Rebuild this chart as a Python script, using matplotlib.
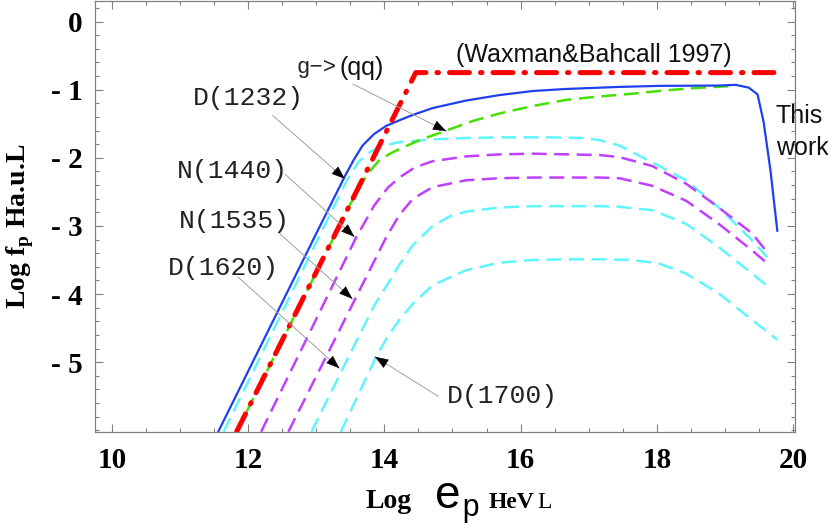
import matplotlib
matplotlib.use("Agg")
import matplotlib.pyplot as plt
from matplotlib.ticker import MultipleLocator, FixedLocator, FixedFormatter

# curves: x = log E_p (eV), y = log f_p (a.u.)
this_work_x = [11.56, 13.02, 13.42, 13.55, 13.68, 13.85, 14.03, 14.22, 14.42, 14.71, 15.2,
               15.69, 16.18, 16.67, 17.45, 18.03, 18.91, 19.16, 19.35, 19.48, 19.57, 19.67, 19.77]
this_work_y = [-6.02, -3.07, -2.27, -2.03, -1.82, -1.65, -1.53, -1.45, -1.37, -1.27, -1.16,
               -1.08, -1.02, -0.99, -0.96, -0.945, -0.94, -0.93, -0.97, -1.07, -1.48, -2.19, -3.07]

wb_x = [11.83, 14.46, 19.72]
wb_y = [-6.02, -0.75, -0.75]

gqq_x = [11.83, 13.50, 13.66, 13.80, 13.93, 14.10, 14.27, 14.52, 14.91, 15.30, 15.69,
         16.18, 16.67, 17.16, 17.64, 18.03, 18.5, 19.05]
gqq_y = [-6.02, -2.68, -2.38, -2.18, -2.03, -1.93, -1.85, -1.74, -1.60, -1.46, -1.35,
         -1.24, -1.15, -1.10, -1.06, -1.02, -0.98, -0.95]

d1232_x = [11.64, 13.07, 13.45, 13.62, 13.78, 13.95, 14.22, 14.71, 15.2, 15.69, 16.42,
           16.9, 17.16, 17.45, 17.94, 18.43, 18.91, 19.40, 19.62]
d1232_y = [-6.02, -3.10, -2.33, -2.06, -1.92, -1.83, -1.77, -1.73, -1.71, -1.70, -1.70,
           -1.71, -1.74, -1.82, -2.07, -2.33, -2.73, -3.21, -3.46]

n1440_x = [12.19, 13.59, 13.85, 14.05, 14.22, 14.45, 14.71, 15.2, 15.69, 16.18, 17.16,
           17.45, 17.93, 18.43, 18.91, 19.40, 19.60]
n1440_y = [-6.02, -3.16, -2.70, -2.44, -2.29, -2.14, -2.05, -1.98, -1.95, -1.94, -1.96,
           -1.99, -2.12, -2.38, -2.73, -3.11, -3.36]

n1535_x = [12.59, 14.03, 14.22, 14.42, 14.71, 15.2, 15.69, 16.18, 17.16, 17.45, 17.93,
           18.43, 18.91, 19.40, 19.60]
n1535_y = [-6.02, -3.16, -2.84, -2.60, -2.43, -2.33, -2.30, -2.29, -2.29, -2.30, -2.41,
           -2.63, -2.97, -3.36, -3.53]

d1620_x = [12.93, 13.45, 13.85, 14.05, 14.22, 14.42, 14.71, 14.96, 15.2, 15.69, 16.18,
           17.16, 17.45, 17.94, 18.43, 18.91, 19.40, 19.67]
d1620_y = [-6.02, -4.97, -4.17, -3.85, -3.57, -3.28, -3.00, -2.86, -2.79, -2.73, -2.71,
           -2.71, -2.72, -2.77, -2.97, -3.31, -3.70, -3.92]

d1700_x = [13.36, 13.88, 14.05, 14.22, 14.42, 14.71, 15.2, 15.69, 16.18, 16.67, 17.16,
           17.64, 18.03, 18.43, 18.91, 19.40, 19.77]
d1700_y = [-6.02, -4.92, -4.62, -4.38, -4.14, -3.87, -3.65, -3.54, -3.50, -3.49, -3.49,
           -3.50, -3.55, -3.70, -3.99, -4.38, -4.67]

x_ticks = [10, 12, 14, 16, 18, 20]
y_ticks = [0, -1, -2, -3, -4, -5]
y_tick_labels = ["0", "- 1", "- 2", "- 3", "- 4", "- 5"]

SERIF = ["Liberation Serif", "DejaVu Serif"]
MONO = ["Liberation Mono", "DejaVu Sans Mono"]
SANS = ["Liberation Sans", "DejaVu Sans"]

fig = plt.figure(figsize=(8.29, 5.30), dpi=100)
ax = fig.add_axes([0.1146, 0.1855, 0.8444, 0.8125])

cyan = "#5ff5ff"
magenta = "#c040ff"
dash = (6, 3)

ax.plot(d1232_x, d1232_y, color=cyan, lw=1.8, dashes=dash)
ax.plot(n1440_x, n1440_y, color=magenta, lw=1.8, dashes=dash)
ax.plot(n1535_x, n1535_y, color=magenta, lw=1.8, dashes=dash)
ax.plot(d1620_x, d1620_y, color=cyan, lw=1.8, dashes=dash)
ax.plot(d1700_x, d1700_y, color=cyan, lw=1.8, dashes=dash)
ax.plot(gqq_x, gqq_y, color="#44e000", lw=1.8, dashes=dash)
ax.plot(this_work_x, this_work_y, color="#2040f0", lw=1.6)
ax.plot(wb_x, wb_y, color="#ff0000", lw=3.6, dashes=(4, 2.2, 0.3, 2.2),
        dash_capstyle="round", solid_capstyle="round")

ax.set_xlim(9.75, 20.03)
ax.set_ylim(-6.02, 0.3)

# Mathematica-style frame: inward ticks on all four sides
ax.xaxis.set_major_locator(FixedLocator(x_ticks))
ax.xaxis.set_minor_locator(MultipleLocator(0.5))
ax.yaxis.set_major_locator(FixedLocator(y_ticks))
ax.yaxis.set_major_formatter(FixedFormatter(y_tick_labels))
ax.yaxis.set_minor_locator(MultipleLocator(0.2))
ax.tick_params(which="both", direction="in", top=True, right=True, color="#808080", width=0.8)
ax.tick_params(which="major", length=6)
ax.tick_params(which="minor", length=3)
ax.tick_params(axis="x", pad=11)
ax.tick_params(axis="y", pad=9)
for lab in ax.get_xticklabels() + ax.get_yticklabels():
    lab.set_fontfamily(SERIF)
    lab.set_fontweight("bold")
    lab.set_fontsize(21)
for sp in ax.spines.values():
    sp.set_color("#808080")
    sp.set_linewidth(0.9)


def pointer(start, tip):
    ax.annotate("", xy=tip, xytext=start,
                arrowprops=dict(arrowstyle="-", color="#a0a0a0", lw=0.7,
                                shrinkA=0, shrinkB=0))
    dx, dy = tip[0] - start[0], tip[1] - start[1]
    n = (dx * dx + dy * dy) ** 0.5
    back = (tip[0] - 0.2 * dx / n, tip[1] - 0.2 * dy / n)
    ax.annotate("", xy=tip, xytext=back,
                arrowprops=dict(arrowstyle="-|>,head_length=0.9,head_width=0.33",
                                color="black", lw=0.3, mutation_scale=10,
                                shrinkA=0, shrinkB=0))


mono_kw = dict(family=MONO, fontsize=19, color="#222222", ha="center", va="center")
ax.text(12.01, -1.13, "D(1232)", **mono_kw)
ax.text(11.77, -2.19, "N(1440)", **mono_kw)
ax.text(11.80, -2.93, "N(1535)", **mono_kw)
ax.text(11.64, -3.62, "D(1620)", **mono_kw)
ax.text(15.73, -5.49, "D(1700)", **mono_kw)

pointer((12.36, -1.38), (13.42, -2.31))
pointer((12.54, -2.24), (13.56, -3.16))
pointer((12.46, -3.11), (13.53, -4.07))
pointer((11.85, -3.75), (13.34, -5.09))
pointer((14.79, -5.50), (13.86, -4.92))
pointer((13.54, -0.92), (14.91, -1.61))

ax.text(13.30, -0.68, "g\u2212>", family=MONO, fontsize=16, color="#222222",
        ha="right", va="center")
ax.text(13.34, -0.68, "(qq)", family=SANS, fontsize=18, color="#111111",
        ha="left", va="center")
ax.text(15.05, -0.49, "(Waxman&Bahcall 1997)", family=SANS, fontsize=18,
        color="#111111", ha="left", va="center")
ax.text(19.75, -1.39, "This", family=SANS, fontsize=18, color="#111111",
        ha="left", va="center")
ax.text(19.75, -1.85, "work", family=SANS, fontsize=18, color="#111111",
        ha="left", va="center")

# axis titles, rebuilt from pieces as in the original export
ax.text(-0.107, 0.476, "Log f$_{\\mathregular{p}}$ Ha.u.L", transform=ax.transAxes,
        rotation=90, ha="center", va="center", family=SERIF, fontweight="bold",
        fontsize=20)
base = 1 - 508 / 530
fig.text(366 / 829, base, "Log", family=SERIF, fontweight="bold", fontsize=20,
         ha="left", va="baseline")
fig.text(434 / 829, base, "e", family=MONO, fontsize=33, ha="left", va="baseline")
fig.text(461 / 829, 1 - 516 / 530, "p", family=MONO, fontsize=22, ha="left", va="baseline")
fig.text(489 / 829, base, "HeV", family=SERIF, fontweight="bold", fontsize=17,
         ha="left", va="baseline")
fig.text(537 / 829, base, "L", family=SERIF, fontsize=17, ha="left", va="baseline")

fig.savefig("out.png", dpi=100)
